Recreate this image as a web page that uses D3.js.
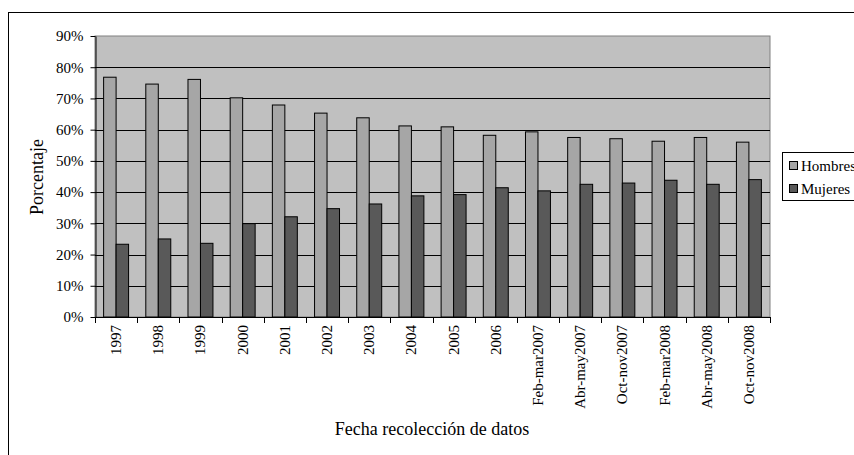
<!DOCTYPE html>
<html>
<head>
<meta charset="utf-8">
<script src="https://cdn.jsdelivr.net/npm/d3@7"></script>
<style>
    body { margin: 0; background: #fff; }
    text { font-family: "Liberation Serif", "Times New Roman", serif; fill: #000; }
</style>
</head>
<body>
<svg id="chart" width="854" height="455"></svg>
<script>

const categories = ['1997', '1998', '1999', '2000', '2001', '2002', '2003', '2004', '2005', '2006',
    'Feb-mar2007', 'Abr-may2007', 'Oct-nov2007', 'Feb-mar2008', 'Abr-may2008', 'Oct-nov2008'];
const seriesNames = ['Hombres', 'Mujeres'];
const hombres = [76.8, 74.6, 76.1, 70.2, 67.9, 65.3, 63.8, 61.2, 60.9, 58.2, 59.3, 57.5, 57.1, 56.3, 57.5, 56.0];
const mujeres = [23.3, 25.0, 23.6, 29.9, 32.1, 34.7, 36.2, 38.8, 39.2, 41.4, 40.4, 42.5, 42.9, 43.8, 42.5, 44.0];
const yTicks = [0, 10, 20, 30, 40, 50, 60, 70, 80, 90];

const colors = { Hombres: '#a6a6a6', Mujeres: '#595959' };

let svg = d3.select('#chart');

// outer frame (runs past the window on the right and bottom)
svg.append('rect')
    .attr('x', 8.5).attr('y', 12.5)
    .attr('width', 900).attr('height', 500)
    .attr('fill', '#fff')
    .attr('stroke', '#000');

let plotLeft = 95, plotRight = 770, plotTop = 36, plotBottom = 317;

let x = d3.scaleBand()
    .domain(categories)
    .range([plotLeft, plotRight]);

let xSub = d3.scaleBand()
    .domain(seriesNames)
    .range([0, x.bandwidth()])
    .paddingOuter(0.69);

let y = d3.scaleLinear()
    .domain([0, 90])
    .range([plotBottom, plotTop]);

// plot background
svg.append('rect')
    .attr('x', plotLeft).attr('y', plotTop)
    .attr('width', plotRight - plotLeft).attr('height', plotBottom - plotTop)
    .attr('fill', '#c0c0c0')
    .attr('stroke', '#808080');

// gridlines
svg.append('g')
    .selectAll('line')
    .data(yTicks.filter(d => d > 0 && d < 90))
    .join('line')
    .attr('x1', plotLeft).attr('x2', plotRight)
    .attr('y1', d => Math.round(y(d)) + 0.5)
    .attr('y2', d => Math.round(y(d)) + 0.5)
    .attr('stroke', '#000');

// bars
let data = categories.map((c, i) => ({ cat: c, values: [
    { key: 'Hombres', value: hombres[i] },
    { key: 'Mujeres', value: mujeres[i] }
]}));

svg.append('g')
    .selectAll('g')
    .data(data)
    .join('g')
    .attr('transform', d => `translate(${x(d.cat)},0)`)
    .selectAll('rect')
    .data(d => d.values)
    .join('rect')
    .attr('x', d => xSub(d.key))
    .attr('width', xSub.bandwidth())
    .attr('y', d => y(d.value))
    .attr('height', d => y(0) - y(d.value))
    .attr('fill', d => colors[d.key])
    .attr('stroke', '#000')
    .attr('stroke-width', 1);

// y axis
let yAxis = d3.axisLeft(y)
    .tickValues(yTicks)
    .tickFormat(d => d + '%')
    .tickSize(5)
    .tickSizeOuter(0);

let gy = svg.append('g')
    .attr('transform', `translate(${plotLeft + 0.5},0)`)
    .call(yAxis);
gy.select('.domain').attr('stroke', '#000');
gy.selectAll('.tick line').attr('stroke', '#000');
gy.selectAll('.tick text')
    .attr('x', -12)
    .style('font-size', '15px')
    .style('font-family', '"Liberation Serif", "Times New Roman", serif');

// x axis: ticks at band boundaries
let xAxisY = plotBottom + 0.5;
svg.append('line')
    .attr('x1', plotLeft).attr('x2', plotRight)
    .attr('y1', xAxisY).attr('y2', xAxisY)
    .attr('stroke', '#000');

let bounds = categories.map(c => x(c)).concat([plotRight]);
svg.append('g')
    .selectAll('line')
    .data(bounds)
    .join('line')
    .attr('x1', d => Math.round(d) + 0.5).attr('x2', d => Math.round(d) + 0.5)
    .attr('y1', plotBottom).attr('y2', plotBottom + 6)
    .attr('stroke', '#000');

svg.append('g')
    .selectAll('text')
    .data(categories)
    .join('text')
    .attr('transform', d => `translate(${x(d) + x.bandwidth() / 2 + 5},${plotBottom + 8}) rotate(-90)`)
    .attr('text-anchor', 'end')
    .style('font-size', '15px')
    .text(d => d);

// axis titles
svg.append('text')
    .attr('transform', `translate(43,177) rotate(-90)`)
    .attr('text-anchor', 'middle')
    .style('font-size', '18px')
    .text('Porcentaje');

svg.append('text')
    .attr('x', 432)
    .attr('y', 435)
    .attr('text-anchor', 'middle')
    .style('font-size', '18px')
    .text('Fecha recolección de datos');

// legend
let legend = svg.append('g').attr('transform', 'translate(782.5,152.5)');
legend.append('rect')
    .attr('width', 100).attr('height', 48)
    .attr('fill', '#fff')
    .attr('stroke', '#000');

let items = legend.selectAll('g')
    .data(seriesNames)
    .join('g')
    .attr('transform', (d, i) => `translate(0,${13 + i * 23})`);

items.append('rect')
    .attr('x', 7).attr('y', -4)
    .attr('width', 8).attr('height', 8)
    .attr('fill', d => colors[d])
    .attr('stroke', '#000');

items.append('text')
    .attr('x', 18.5)
    .attr('y', 5)
    .style('font-size', '15px')
    .text(d => d);

</script>
</body>
</html>
